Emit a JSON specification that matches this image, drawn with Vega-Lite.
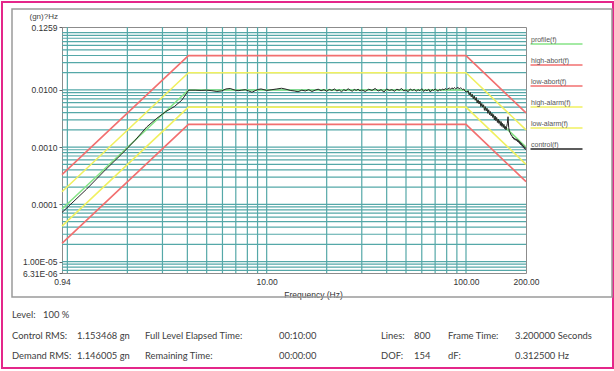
{
  "$schema": "https://vega.github.io/schema/vega-lite/v6.json",
  "width": 464,
  "height": 246,
  "autosize": {"type": "none"},
  "padding": {"left": 62, "top": 27, "right": 88, "bottom": 98},
  "background": "white",
  "config": {
    "view": {"stroke": "#8c8c8c", "strokeWidth": 1},
    "font": "Liberation Sans"
  },
  "datasets": {
    "gridx": [
      {"freq": 1}, {"freq": 2}, {"freq": 3}, {"freq": 4}, {"freq": 5}, {"freq": 6}, {"freq": 7}, {"freq": 8}, {"freq": 9},
      {"freq": 10}, {"freq": 20}, {"freq": 30}, {"freq": 40}, {"freq": 50}, {"freq": 60}, {"freq": 70}, {"freq": 80}, {"freq": 90},
      {"freq": 100}
    ],
    "gridy": [
      {"psd": 0.000007}, {"psd": 0.000008}, {"psd": 0.000009},
      {"psd": 0.00001}, {"psd": 0.00002}, {"psd": 0.00003}, {"psd": 0.00004}, {"psd": 0.00005}, {"psd": 0.00006}, {"psd": 0.00007}, {"psd": 0.00008}, {"psd": 0.00009},
      {"psd": 0.0001}, {"psd": 0.0002}, {"psd": 0.0003}, {"psd": 0.0004}, {"psd": 0.0005}, {"psd": 0.0006}, {"psd": 0.0007}, {"psd": 0.0008}, {"psd": 0.0009},
      {"psd": 0.001}, {"psd": 0.002}, {"psd": 0.003}, {"psd": 0.004}, {"psd": 0.005}, {"psd": 0.006}, {"psd": 0.007}, {"psd": 0.008}, {"psd": 0.009},
      {"psd": 0.01}, {"psd": 0.02}, {"psd": 0.03}, {"psd": 0.04}, {"psd": 0.05}, {"psd": 0.06}, {"psd": 0.07}, {"psd": 0.08}, {"psd": 0.09},
      {"psd": 0.1}
    ],
    "bounds": [
      {"series": "profile(f)", "freq": 0.94, "psd": 0.000083},
      {"series": "profile(f)", "freq": 4.05, "psd": 0.01},
      {"series": "profile(f)", "freq": 100, "psd": 0.01},
      {"series": "profile(f)", "freq": 200, "psd": 0.001},
      {"series": "high-abort(f)", "freq": 0.94, "psd": 0.00033},
      {"series": "high-abort(f)", "freq": 4.05, "psd": 0.0398},
      {"series": "high-abort(f)", "freq": 100, "psd": 0.0398},
      {"series": "high-abort(f)", "freq": 200, "psd": 0.00398},
      {"series": "low-abort(f)", "freq": 0.94, "psd": 0.0000208},
      {"series": "low-abort(f)", "freq": 4.05, "psd": 0.0025},
      {"series": "low-abort(f)", "freq": 100, "psd": 0.0025},
      {"series": "low-abort(f)", "freq": 200, "psd": 0.00025},
      {"series": "high-alarm(f)", "freq": 0.94, "psd": 0.000166},
      {"series": "high-alarm(f)", "freq": 4.05, "psd": 0.02},
      {"series": "high-alarm(f)", "freq": 100, "psd": 0.02},
      {"series": "high-alarm(f)", "freq": 200, "psd": 0.002},
      {"series": "low-alarm(f)", "freq": 0.94, "psd": 0.0000415},
      {"series": "low-alarm(f)", "freq": 4.05, "psd": 0.005},
      {"series": "low-alarm(f)", "freq": 100, "psd": 0.005},
      {"series": "low-alarm(f)", "freq": 200, "psd": 0.0005}
    ],
    "control": [
      {"freq": 0.94, "psd": 0.000072},
      {"freq": 1.25, "psd": 0.000185},
      {"freq": 1.5625, "psd": 0.00041},
      {"freq": 1.875, "psd": 0.00076},
      {"freq": 2.1875, "psd": 0.00132},
      {"freq": 2.5, "psd": 0.00225},
      {"freq": 2.8125, "psd": 0.0032},
      {"freq": 3.125, "psd": 0.0042},
      {"freq": 3.4375, "psd": 0.0051},
      {"freq": 3.75, "psd": 0.0066},
      {"freq": 4.0625, "psd": 0.0099},
      {"freq": 4.375, "psd": 0.0099},
      {"freq": 4.6875, "psd": 0.0098},
      {"freq": 5.0, "psd": 0.0099},
      {"freq": 5.3125, "psd": 0.0097},
      {"freq": 5.625, "psd": 0.0094},
      {"freq": 5.9375, "psd": 0.0096},
      {"freq": 6.25, "psd": 0.0104},
      {"freq": 6.5625, "psd": 0.0106},
      {"freq": 6.875, "psd": 0.01},
      {"freq": 7.1875, "psd": 0.0097},
      {"freq": 7.5, "psd": 0.0099},
      {"freq": 7.8125, "psd": 0.0101},
      {"freq": 8.125, "psd": 0.0096},
      {"freq": 8.4375, "psd": 0.0091},
      {"freq": 8.75, "psd": 0.0097},
      {"freq": 9.0625, "psd": 0.0102},
      {"freq": 9.375, "psd": 0.0104},
      {"freq": 9.6875, "psd": 0.0101},
      {"freq": 10.0, "psd": 0.0098},
      {"freq": 10.625, "psd": 0.0101},
      {"freq": 11.25, "psd": 0.0104},
      {"freq": 11.875, "psd": 0.0107},
      {"freq": 12.5, "psd": 0.0103},
      {"freq": 13.125, "psd": 0.0098},
      {"freq": 13.75, "psd": 0.0096},
      {"freq": 14.375, "psd": 0.0093},
      {"freq": 15.0, "psd": 0.0099},
      {"freq": 15.625, "psd": 0.0096},
      {"freq": 16.25, "psd": 0.0101},
      {"freq": 16.875, "psd": 0.0094},
      {"freq": 17.5, "psd": 0.0099},
      {"freq": 18.125, "psd": 0.0103},
      {"freq": 18.75, "psd": 0.0097},
      {"freq": 19.375, "psd": 0.0101},
      {"freq": 20.0, "psd": 0.0095},
      {"freq": 20.625, "psd": 0.0102},
      {"freq": 21.25, "psd": 0.0098},
      {"freq": 21.875, "psd": 0.0104},
      {"freq": 22.5, "psd": 0.0096},
      {"freq": 23.125, "psd": 0.01},
      {"freq": 23.75, "psd": 0.0093},
      {"freq": 24.375, "psd": 0.0101},
      {"freq": 25.0, "psd": 0.0097},
      {"freq": 25.625, "psd": 0.0105},
      {"freq": 26.25, "psd": 0.0099},
      {"freq": 26.875, "psd": 0.0095},
      {"freq": 27.5, "psd": 0.0102},
      {"freq": 28.125, "psd": 0.0098},
      {"freq": 28.75, "psd": 0.0103},
      {"freq": 29.375, "psd": 0.0096},
      {"freq": 30.0, "psd": 0.01},
      {"freq": 31.25, "psd": 0.0094},
      {"freq": 32.5, "psd": 0.0103},
      {"freq": 33.75, "psd": 0.0098},
      {"freq": 35.0, "psd": 0.0106},
      {"freq": 36.25, "psd": 0.0096},
      {"freq": 37.5, "psd": 0.0101},
      {"freq": 38.75, "psd": 0.0092},
      {"freq": 40.0, "psd": 0.0104},
      {"freq": 41.25, "psd": 0.0098},
      {"freq": 42.5, "psd": 0.0101},
      {"freq": 43.75, "psd": 0.0095},
      {"freq": 45.0, "psd": 0.0103},
      {"freq": 46.25, "psd": 0.0099},
      {"freq": 47.5, "psd": 0.0106},
      {"freq": 48.75, "psd": 0.0096},
      {"freq": 50.0, "psd": 0.01},
      {"freq": 51.25, "psd": 0.0093},
      {"freq": 52.5, "psd": 0.0104},
      {"freq": 53.75, "psd": 0.0098},
      {"freq": 55.0, "psd": 0.0102},
      {"freq": 56.25, "psd": 0.0095},
      {"freq": 57.5, "psd": 0.0101},
      {"freq": 58.75, "psd": 0.0097},
      {"freq": 60.0, "psd": 0.0105},
      {"freq": 61.25, "psd": 0.0094},
      {"freq": 62.5, "psd": 0.01},
      {"freq": 63.75, "psd": 0.0097},
      {"freq": 65.0, "psd": 0.0103},
      {"freq": 66.25, "psd": 0.0092},
      {"freq": 67.5, "psd": 0.0101},
      {"freq": 68.75, "psd": 0.0098},
      {"freq": 70.0, "psd": 0.0104},
      {"freq": 71.25, "psd": 0.0099},
      {"freq": 72.5, "psd": 0.0095},
      {"freq": 73.75, "psd": 0.0102},
      {"freq": 75.0, "psd": 0.0098},
      {"freq": 76.25, "psd": 0.0104},
      {"freq": 77.5, "psd": 0.01},
      {"freq": 78.75, "psd": 0.0106},
      {"freq": 80.0, "psd": 0.0101},
      {"freq": 81.25, "psd": 0.0105},
      {"freq": 82.5, "psd": 0.0108},
      {"freq": 83.75, "psd": 0.0103},
      {"freq": 85.0, "psd": 0.0109},
      {"freq": 86.25, "psd": 0.0104},
      {"freq": 87.5, "psd": 0.011},
      {"freq": 88.75, "psd": 0.0105},
      {"freq": 90.0, "psd": 0.0108},
      {"freq": 91.25, "psd": 0.0111},
      {"freq": 92.5, "psd": 0.0104},
      {"freq": 93.75, "psd": 0.0109},
      {"freq": 95.0, "psd": 0.0106},
      {"freq": 96.25, "psd": 0.0101},
      {"freq": 97.5, "psd": 0.0104},
      {"freq": 98.75, "psd": 0.0096},
      {"freq": 100.0, "psd": 0.0093},
      {"freq": 101.25, "psd": 0.0092},
      {"freq": 102.5, "psd": 0.0097},
      {"freq": 103.75, "psd": 0.0082},
      {"freq": 105.0, "psd": 0.009},
      {"freq": 106.25, "psd": 0.0076},
      {"freq": 107.5, "psd": 0.0084},
      {"freq": 108.75, "psd": 0.007},
      {"freq": 110.0, "psd": 0.0078},
      {"freq": 111.25, "psd": 0.0066},
      {"freq": 112.5, "psd": 0.0074},
      {"freq": 113.75, "psd": 0.0059},
      {"freq": 115.0, "psd": 0.0067},
      {"freq": 116.25, "psd": 0.0057},
      {"freq": 117.5, "psd": 0.0064},
      {"freq": 118.75, "psd": 0.0051},
      {"freq": 120.0, "psd": 0.0058},
      {"freq": 121.25, "psd": 0.005},
      {"freq": 122.5, "psd": 0.0055},
      {"freq": 123.75, "psd": 0.0044},
      {"freq": 125.0, "psd": 0.0051},
      {"freq": 126.25, "psd": 0.0043},
      {"freq": 127.5, "psd": 0.0048},
      {"freq": 128.75, "psd": 0.0039},
      {"freq": 130.0, "psd": 0.0045},
      {"freq": 131.25, "psd": 0.0037},
      {"freq": 132.5, "psd": 0.0042},
      {"freq": 133.75, "psd": 0.0035},
      {"freq": 135.0, "psd": 0.0039},
      {"freq": 136.25, "psd": 0.0033},
      {"freq": 137.5, "psd": 0.0037},
      {"freq": 138.75, "psd": 0.003},
      {"freq": 140.0, "psd": 0.0035},
      {"freq": 141.25, "psd": 0.0029},
      {"freq": 142.5, "psd": 0.0033},
      {"freq": 143.75, "psd": 0.0027},
      {"freq": 145.0, "psd": 0.0031},
      {"freq": 146.25, "psd": 0.0026},
      {"freq": 147.5, "psd": 0.0029},
      {"freq": 148.75, "psd": 0.0024},
      {"freq": 150.0, "psd": 0.0028},
      {"freq": 151.25, "psd": 0.0023},
      {"freq": 152.5, "psd": 0.0026},
      {"freq": 153.75, "psd": 0.0022},
      {"freq": 155.0, "psd": 0.0025},
      {"freq": 156.25, "psd": 0.0021},
      {"freq": 157.5, "psd": 0.0023},
      {"freq": 158.75, "psd": 0.002},
      {"freq": 160.0, "psd": 0.0023},
      {"freq": 161.25, "psd": 0.0026},
      {"freq": 162.5, "psd": 0.0034},
      {"freq": 163.75, "psd": 0.0022},
      {"freq": 165.0, "psd": 0.0019},
      {"freq": 166.25, "psd": 0.0018},
      {"freq": 167.5, "psd": 0.0017},
      {"freq": 168.75, "psd": 0.0016},
      {"freq": 170.0, "psd": 0.0016},
      {"freq": 171.25, "psd": 0.00145},
      {"freq": 172.5, "psd": 0.0015},
      {"freq": 173.75, "psd": 0.00138},
      {"freq": 175.0, "psd": 0.00143},
      {"freq": 176.25, "psd": 0.00133},
      {"freq": 177.5, "psd": 0.0014},
      {"freq": 178.75, "psd": 0.0013},
      {"freq": 180.0, "psd": 0.00138},
      {"freq": 181.25, "psd": 0.00125},
      {"freq": 182.5, "psd": 0.00133},
      {"freq": 183.75, "psd": 0.00121},
      {"freq": 185.0, "psd": 0.00127},
      {"freq": 186.25, "psd": 0.00115},
      {"freq": 187.5, "psd": 0.00121},
      {"freq": 188.75, "psd": 0.00109},
      {"freq": 190.0, "psd": 0.00116},
      {"freq": 191.25, "psd": 0.00104},
      {"freq": 192.5, "psd": 0.0011},
      {"freq": 193.75, "psd": 0.00099},
      {"freq": 195.0, "psd": 0.00105},
      {"freq": 196.25, "psd": 0.00094},
      {"freq": 197.5, "psd": 0.00099},
      {"freq": 198.75, "psd": 0.00091},
      {"freq": 200.0, "psd": 0.00093}
    ],
    "stats": [
      {"row": 1, "col": 1, "text": "Level:"},
      {"row": 1, "col": 2, "text": "100 %"},
      {"row": 2, "col": 1, "text": "Control RMS:"},
      {"row": 2, "col": 3, "text": "1.153468 gn"},
      {"row": 2, "col": 4, "text": "Full Level Elapsed Time:"},
      {"row": 2, "col": 5, "text": "00:10:00"},
      {"row": 2, "col": 6, "text": "Lines:"},
      {"row": 2, "col": 7, "text": "800"},
      {"row": 2, "col": 8, "text": "Frame Time:"},
      {"row": 2, "col": 9, "text": "3.200000 Seconds"},
      {"row": 3, "col": 1, "text": "Demand RMS:"},
      {"row": 3, "col": 3, "text": "1.146005 gn"},
      {"row": 3, "col": 4, "text": "Remaining Time:"},
      {"row": 3, "col": 5, "text": "00:00:00"},
      {"row": 3, "col": 6, "text": "DOF:"},
      {"row": 3, "col": 7, "text": "154"},
      {"row": 3, "col": 8, "text": "dF:"},
      {"row": 3, "col": 9, "text": "0.312500 Hz"}
    ]
  },
  "layer": [
    {
      "data": {"values": [{"frame": "page"}]},
      "mark": {"type": "rect", "fill": "transparent", "stroke": "#e4268a", "strokeWidth": 2},
      "encoding": {
        "x": {"datum": 0, "type": "quantitative", "scale": {"domain": [0, 1], "range": [-60, 551]}, "axis": null},
        "x2": {"datum": 1},
        "y": {"datum": 0, "type": "quantitative", "scale": {"domain": [0, 1], "range": [-25, 341]}, "axis": null},
        "y2": {"datum": 1}
      }
    },
    {
      "data": {"values": [{"frame": "chart"}]},
      "mark": {"type": "rect", "fill": "transparent", "stroke": "#9a9a9a", "strokeWidth": 1.5},
      "encoding": {
        "x": {"datum": 0, "type": "quantitative", "scale": {"domain": [0, 1], "range": [-50, 550]}, "axis": null},
        "x2": {"datum": 1},
        "y": {"datum": 0, "type": "quantitative", "scale": {"domain": [0, 1], "range": [-18, 270]}, "axis": null},
        "y2": {"datum": 1}
      }
    },
    {
      "data": {"name": "gridx"},
      "mark": {"type": "rule", "color": "#55a8a8", "strokeWidth": 1.2},
      "encoding": {
        "x": {"field": "freq", "type": "quantitative", "scale": {"type": "log", "domain": [0.94, 200], "nice": false}, "axis": null}
      }
    },
    {
      "data": {"name": "gridy"},
      "mark": {"type": "rule", "color": "#55a8a8", "strokeWidth": 1.2},
      "encoding": {
        "y": {"field": "psd", "type": "quantitative", "scale": {"type": "log", "domain": [0.00000631, 0.1259], "nice": false}, "axis": null}
      }
    },
    {
      "data": {"name": "bounds"},
      "mark": {"type": "line", "strokeWidth": 1.6},
      "encoding": {
        "x": {
          "field": "freq", "type": "quantitative",
          "scale": {"type": "log", "domain": [0.94, 200], "nice": false},
          "axis": {
            "orient": "bottom",
            "values": [0.94, 10, 100, 200],
            "labelExpr": "datum.value == 0.94 ? '0.94' : datum.value == 10 ? '10.00' : datum.value == 100 ? '100.00' : '200.00'",
            "grid": false,
            "ticks": false,
            "domain": false,
            "labelPadding": 4,
            "labelFontSize": 8.5,
            "labelColor": "#333333",
            "labelFlush": false,
            "labelOverlap": false,
            "labelBound": false,
            "title": "Frequency (Hz)",
            "titleFontSize": 8.5,
            "titleFontWeight": "normal",
            "titleColor": "#333333",
            "titleX": 251,
            "titleY": 21,
            "titleAlign": "center",
            "titleBaseline": "middle"
          }
        },
        "y": {
          "field": "psd", "type": "quantitative",
          "scale": {"type": "log", "domain": [0.00000631, 0.1259], "nice": false},
          "axis": {
            "orient": "left",
            "values": [0.00000631, 0.00001, 0.0001, 0.001, 0.01, 0.1259],
            "labelExpr": "datum.value == 0.1259 ? '0.1259' : datum.value == 0.01 ? '0.0100' : datum.value == 0.001 ? '0.0010' : datum.value == 0.0001 ? '0.0001' : datum.value == 0.00001 ? '1.00E-05' : '6.31E-06'",
            "grid": false,
            "ticks": true,
            "tickSize": 3,
            "tickColor": "#666666",
            "domain": false,
            "labelPadding": 2,
            "labelFontSize": 8.5,
            "labelColor": "#333333",
            "labelOverlap": false,
            "labelBound": false,
            "labelFlush": false,
            "title": "(gn)?Hz",
            "titleAngle": 0,
            "titleFontSize": 8,
            "titleFontWeight": "normal",
            "titleColor": "#444444",
            "titleX": -33,
            "titleY": -10.5,
            "titleAlign": "left",
            "titleBaseline": "middle"
          }
        },
        "color": {
          "field": "series", "type": "nominal",
          "scale": {
            "domain": ["profile(f)", "high-abort(f)", "low-abort(f)", "high-alarm(f)", "low-alarm(f)", "control(f)"],
            "range": ["#86e386", "#f26f6f", "#f26f6f", "#f0f060", "#f0f060", "#262626"]
          },
          "legend": {
            "title": null,
            "orient": "none",
            "legendX": 462,
            "legendY": 9,
            "padding": 0,
            "symbolType": "M1.5,2.25L27.5,2.25",
            "symbolSize": 16,
            "symbolStrokeWidth": 1.5,
            "labelOffset": 0,
            "labelFontSize": 7,
            "labelColor": "#555555",
            "rowPadding": 9
          }
        }
      }
    },
    {
      "data": {"name": "control"},
      "mark": {"type": "line", "strokeWidth": 1},
      "encoding": {
        "x": {"field": "freq", "type": "quantitative", "scale": {"type": "log", "domain": [0.94, 200], "nice": false}, "axis": null},
        "y": {"field": "psd", "type": "quantitative", "scale": {"type": "log", "domain": [0.00000631, 0.1259], "nice": false}, "axis": null},
        "color": {"datum": "control(f)", "type": "nominal", "legend": null}
      }
    },
    {
      "data": {"name": "stats"},
      "mark": {"type": "text", "align": "left", "baseline": "middle", "font": "Lato", "fontSize": 9.4, "color": "#404040"},
      "encoding": {
        "x": {"field": "col", "type": "quantitative", "scale": {"domain": [1, 2, 3, 4, 5, 6, 7, 8, 9], "range": [-50, -19, 15, 83, 217, 319, 352, 386, 453]}, "axis": null},
        "y": {"field": "row", "type": "quantitative", "scale": {"domain": [1, 3], "range": [288, 329]}, "axis": null},
        "text": {"field": "text"}
      }
    }
  ],
  "resolve": {"scale": {"x": "independent", "y": "independent"}}
}
